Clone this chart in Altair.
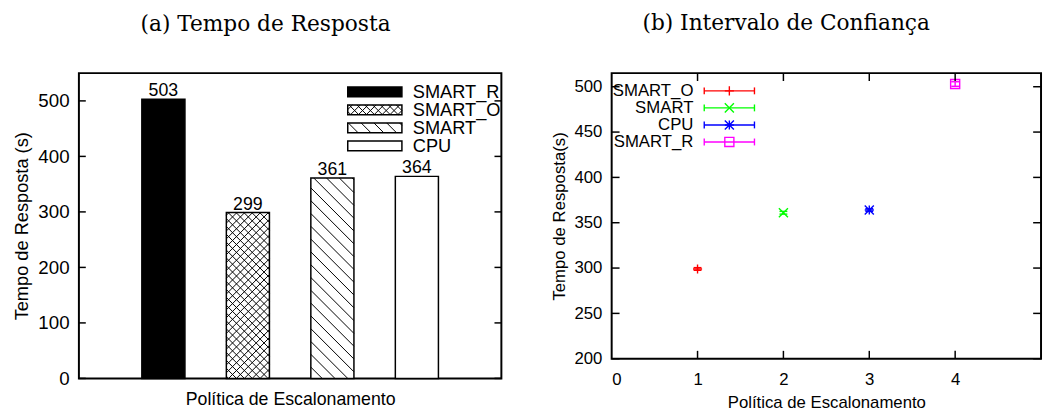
import altair as alt
import numpy as np
import pandas as pd

# ---------------- data ----------------
policies = ["SMART_R", "SMART_O", "SMART", "CPU"]
bar_pos = [1, 2, 3, 4]
bar_values = [503, 299, 361, 364]
bar_fill = {"SMART_R": "solid", "SMART_O": "cross", "SMART": "diag", "CPU": "empty"}

ci_names = ["SMART_O", "SMART", "CPU", "SMART_R"]
ci_pos = [1, 2, 3, 4]
ci_mean = [299, 361, 364, 503]
ci_err = [1.5, 1.5, 1.5, 2.5]
ci_colors = ["#ff0000", "#00ff00", "#0000ff", "#ff00ff"]

left_yticks = [0, 100, 200, 300, 400, 500]
right_yticks = [200, 250, 300, 350, 400, 450, 500]
right_xticks = [0, 1, 2, 3, 4]

# ---------------- layout constants ----------------
LW, LH = 429, 310
LXD, LYD = [0, 5], [0, 550]
RW, RH = 436, 290
RXD, RYD = [0, 5], [200, 515]
BAR_W = 0.51
SANS = "Liberation Sans"

lsx = LW / (LXD[1] - LXD[0])
lsy = LH / (LYD[1] - LYD[0])
rsx = RW / (RXD[1] - RXD[0])
rsy = RH / (RYD[1] - RYD[0])


def hatch_segments(x0, x1, y0, y1, spacing, slope):
    """pixel space (y up) hatch lines clipped to a rectangle"""
    segs = []
    ks = [y - slope * x for x in (x0, x1) for y in (y0, y1)]
    kmin, kmax = min(ks), max(ks)
    k = np.ceil(kmin / spacing) * spacing
    while k <= kmax:
        xa, xb = (y0 - k) / slope, (y1 - k) / slope
        lo, hi = max(min(xa, xb), x0), min(max(xa, xb), x1)
        if hi - lo > 0.4:
            segs.append((lo, slope * lo + k, hi, slope * hi + k))
        k += spacing
    return segs


def pattern_segs(kind, x0, x1, y0, y1):
    if kind == "cross":
        return hatch_segments(x0, x1, y0, y1, 8, 1) + hatch_segments(x0, x1, y0, y1, 8, -1)
    if kind == "diag":
        return hatch_segments(x0, x1, y0, y1, 13, -1)
    return []


# ---------------- left panel data ----------------
bars = pd.DataFrame({"name": policies, "pos": bar_pos, "val": bar_values})
bars["x0"] = bars["pos"] - BAR_W / 2
bars["x1"] = bars["pos"] + BAR_W / 2
bars["kind"] = bars["name"].map(bar_fill)

hrows = []
for _, r in bars.iterrows():
    for (a, b, c, d) in pattern_segs(r["kind"], r["x0"] * lsx, r["x1"] * lsx, 0, r["val"] * lsy):
        hrows.append({"x": a / lsx, "y": b / lsy, "x2": c / lsx, "y2": d / lsy})
bar_hatch = pd.DataFrame(hrows)

# legend (positions in pixel space of the plot, converted to data units)
LEG_X0, LEG_X1, LEG_TX = 273, 328, 339
LEG_Y0, LEG_DY, LEG_H = 19, 18.3, 10
leg = pd.DataFrame({"name": policies})
leg["kind"] = leg["name"].map(bar_fill)
leg["cy"] = [LH - (LEG_Y0 + LEG_DY * i) for i in range(len(policies))]
leg["x0"] = LEG_X0 / lsx
leg["x1"] = LEG_X1 / lsx
leg["y0"] = (leg["cy"] - LEG_H / 2) / lsy
leg["y1"] = (leg["cy"] + LEG_H / 2) / lsy
leg["tx"] = LEG_TX / lsx
leg["ty"] = leg["cy"] / lsy
lrows = []
for _, r in leg.iterrows():
    for (a, b, c, d) in pattern_segs(r["kind"], LEG_X0, LEG_X1, r["cy"] - LEG_H / 2, r["cy"] + LEG_H / 2):
        lrows.append({"x": a / lsx, "y": b / lsy, "x2": c / lsx, "y2": d / lsy})
leg_hatch = pd.DataFrame(lrows)

lyt = pd.DataFrame({"v": left_yticks})

xsL = alt.Scale(domain=LXD, nice=False, zero=False)
ysL = alt.Scale(domain=LYD, nice=False, zero=False)
fill_scale = alt.Scale(domain=["solid", "cross", "diag", "empty"],
                       range=["#000000", "#ffffff", "#ffffff", "#ffffff"])

axLx = alt.Axis(title="Política de Escalonamento", labels=False, ticks=False,
                domain=False, grid=False, titleFont=SANS, titleFontSize=18,
                titleFontWeight="normal", titleColor="black", titlePadding=12)
axLy = alt.Axis(title="Tempo de Resposta (s)", values=left_yticks, ticks=False,
                domain=False, grid=False, labelFont=SANS, labelFontSize=19,
                labelColor="black", labelPadding=10, titleFont=SANS,
                titleFontSize=18.5, titleFontWeight="normal", titleColor="black",
                titlePadding=6)


def LX(f):
    return alt.X(f, scale=xsL, axis=axLx)


def LY(f):
    return alt.Y(f, scale=ysL, axis=axLy)


l_bars = alt.Chart(bars).mark_rect(strokeWidth=0).encode(
    x=LX("x0:Q"), x2="x1:Q", y=LY("val:Q"), y2=alt.Y2(datum=0),
    fill=alt.Fill("kind:N", scale=fill_scale, legend=None),
)
l_hatch = alt.Chart(bar_hatch).mark_rule(color="black", strokeWidth=1).encode(
    x=LX("x:Q"), y=LY("y:Q"), x2="x2:Q", y2="y2:Q")
l_outline = alt.Chart(bars).mark_rect(filled=False, stroke="black", strokeWidth=1.5).encode(
    x=LX("x0:Q"), x2="x1:Q", y=LY("val:Q"), y2=alt.Y2(datum=0))
l_text = alt.Chart(bars).mark_text(font=SANS, fontSize=18, dy=-3, baseline="alphabetic",
                                   color="black").encode(
    x=LX("pos:Q"), y=LY("val:Q"), text="val:Q")
l_tick_l = alt.Chart(lyt).mark_rule(color="black", strokeWidth=1.5).encode(
    y=LY("v:Q"), x=alt.value(0), x2=alt.value(7))
l_tick_r = alt.Chart(lyt).mark_rule(color="black", strokeWidth=1.5).encode(
    y=LY("v:Q"), x=alt.value(LW - 7), x2=alt.value(LW))
l_leg_fill = alt.Chart(leg).mark_rect(strokeWidth=0).encode(
    x=LX("x0:Q"), x2="x1:Q", y=LY("y0:Q"), y2="y1:Q",
    fill=alt.Fill("kind:N", scale=fill_scale, legend=None))
l_leg_hatch = alt.Chart(leg_hatch).mark_rule(color="black", strokeWidth=1).encode(
    x=LX("x:Q"), y=LY("y:Q"), x2="x2:Q", y2="y2:Q")
l_leg_out = alt.Chart(leg).mark_rect(filled=False, stroke="black", strokeWidth=1.5).encode(
    x=LX("x0:Q"), x2="x1:Q", y=LY("y0:Q"), y2="y1:Q")
l_leg_text = alt.Chart(leg).mark_text(font=SANS, fontSize=18.5, align="left", baseline="middle",
                                      color="black").encode(
    x=LX("tx:Q"), y=LY("ty:Q"), text="name:N")

left = alt.layer(l_bars, l_hatch, l_outline, l_text, l_tick_l, l_tick_r,
                 l_leg_fill, l_leg_hatch, l_leg_out, l_leg_text).properties(
    width=LW, height=LH,
    title=alt.TitleParams("(a) Tempo de Resposta", font="DejaVu Serif", fontSize=22,
                          fontWeight="normal", color="black", anchor="middle",
                          frame="bounds", offset=38, dx=8))

# ---------------- right panel data ----------------
PLUS = "M-1,0L1,0M0,-1L0,1"
CROSS = "M-1,-1L1,1M-1,1L1,-1"
STAR = PLUS + CROSS
BOX = "M-1,-1L1,-1L1,1L-1,1Z"
ci_shapes = [PLUS, CROSS, STAR, BOX]

pts = pd.DataFrame({"name": ci_names, "pos": ci_pos, "mean": ci_mean, "err": ci_err})
pts["lo"] = pts["mean"] - pts["err"]
pts["hi"] = pts["mean"] + pts["err"]

RLEG_TX, RLEG_X0, RLEG_X1 = 83, 94, 145
RLEG_Y0, RLEG_DY = 18, 17.3
rleg = pd.DataFrame({"name": ci_names})
rleg["py"] = [RLEG_Y0 + RLEG_DY * i for i in range(len(ci_names))]
rleg["y"] = RYD[1] - rleg["py"] / rsy
rleg["tx"] = RLEG_TX / rsx
rleg["x0"] = RLEG_X0 / rsx
rleg["x1"] = RLEG_X1 / rsx
rleg["xm"] = (RLEG_X0 + RLEG_X1) / 2 / rsx

ryt = pd.DataFrame({"v": right_yticks})
rxt = pd.DataFrame({"v": [1, 2, 3, 4]})

xsR = alt.Scale(domain=RXD, nice=False, zero=False)
ysR = alt.Scale(domain=RYD, nice=False, zero=False)
col = alt.Color("name:N", scale=alt.Scale(domain=ci_names, range=ci_colors), legend=None)
shp = alt.Shape("name:N", scale=alt.Scale(domain=ci_names, range=ci_shapes), legend=None)

axRx = alt.Axis(title="Política de Escalonamento", values=right_xticks, ticks=False,
                domain=False, grid=False, labelFont=SANS, labelFontSize=17,
                labelColor="black", labelPadding=13, titleFont=SANS,
                titleFontSize=17, titleFontWeight="normal", titleColor="black",
                titlePadding=8)
axRy = alt.Axis(title="Tempo de Resposta(s)", values=right_yticks, ticks=False,
                domain=False, grid=False, labelFont=SANS, labelFontSize=17,
                labelColor="black", labelPadding=10, titleFont=SANS,
                titleFontSize=17, titleFontWeight="normal", titleColor="black",
                titlePadding=6)


def RX(f):
    return alt.X(f, scale=xsR, axis=axRx)


def RY(f):
    return alt.Y(f, scale=ysR, axis=axRy)


r_pts = alt.Chart(pts).mark_point(filled=False, size=85, strokeWidth=1.4, opacity=1).encode(
    x=RX("pos:Q"), y=RY("mean:Q"), stroke=col, shape=shp)
r_err = alt.Chart(pts).mark_rule(strokeWidth=1.4).encode(
    x=RX("pos:Q"), y=RY("lo:Q"), y2="hi:Q", color=col)
r_cap_lo = alt.Chart(pts).mark_rule(strokeWidth=1.4, xOffset=-4, x2Offset=4).encode(
    x=RX("pos:Q"), x2="pos:Q", y=RY("lo:Q"), color=col)
r_cap_hi = alt.Chart(pts).mark_rule(strokeWidth=1.4, xOffset=-4, x2Offset=4).encode(
    x=RX("pos:Q"), x2="pos:Q", y=RY("hi:Q"), color=col)
r_tick_l = alt.Chart(ryt).mark_rule(color="black", strokeWidth=1.5).encode(
    y=RY("v:Q"), x=alt.value(0), x2=alt.value(8))
r_tick_r = alt.Chart(ryt).mark_rule(color="black", strokeWidth=1.5).encode(
    y=RY("v:Q"), x=alt.value(RW - 8), x2=alt.value(RW))
r_tick_b = alt.Chart(rxt).mark_rule(color="black", strokeWidth=1.5).encode(
    x=RX("v:Q"), y=alt.value(RH - 8), y2=alt.value(RH))
r_tick_t = alt.Chart(rxt).mark_rule(color="black", strokeWidth=1.5).encode(
    x=RX("v:Q"), y=alt.value(0), y2=alt.value(8))
r_leg_text = alt.Chart(rleg).mark_text(font=SANS, fontSize=17, align="right",
                                       baseline="middle", color="black").encode(
    x=RX("tx:Q"), y=RY("y:Q"), text="name:N")
r_leg_line = alt.Chart(rleg).mark_rule(strokeWidth=1.4).encode(
    x=RX("x0:Q"), x2="x1:Q", y=RY("y:Q"), color=col)
r_leg_cap0 = alt.Chart(rleg).mark_rule(strokeWidth=1.4, yOffset=-3.5, y2Offset=3.5).encode(
    x=RX("x0:Q"), y=RY("y:Q"), y2="y:Q", color=col)
r_leg_cap1 = alt.Chart(rleg).mark_rule(strokeWidth=1.4, yOffset=-3.5, y2Offset=3.5).encode(
    x=RX("x1:Q"), y=RY("y:Q"), y2="y:Q", color=col)
r_leg_pt = alt.Chart(rleg).mark_point(filled=False, size=85, strokeWidth=1.4, opacity=1).encode(
    x=RX("xm:Q"), y=RY("y:Q"), stroke=col, shape=shp)

right = alt.layer(r_err, r_cap_lo, r_cap_hi, r_pts, r_tick_l, r_tick_r, r_tick_b, r_tick_t,
                  r_leg_text, r_leg_line, r_leg_cap0, r_leg_cap1, r_leg_pt).properties(
    width=RW, height=RH,
    title=alt.TitleParams("(b) Intervalo de Confiança", font="DejaVu Serif", fontSize=22,
                          fontWeight="normal", color="black", anchor="middle",
                          frame="bounds", offset=38, dx=-10))

chart = alt.hconcat(left, right, spacing=46).properties(
    padding={"left": 4, "top": 0, "right": 0, "bottom": 0}
).configure_view(stroke="black", strokeWidth=2).configure_concat(spacing=46)

chart.save("out.html", embed_options={"renderer": "svg", "actions": False})
